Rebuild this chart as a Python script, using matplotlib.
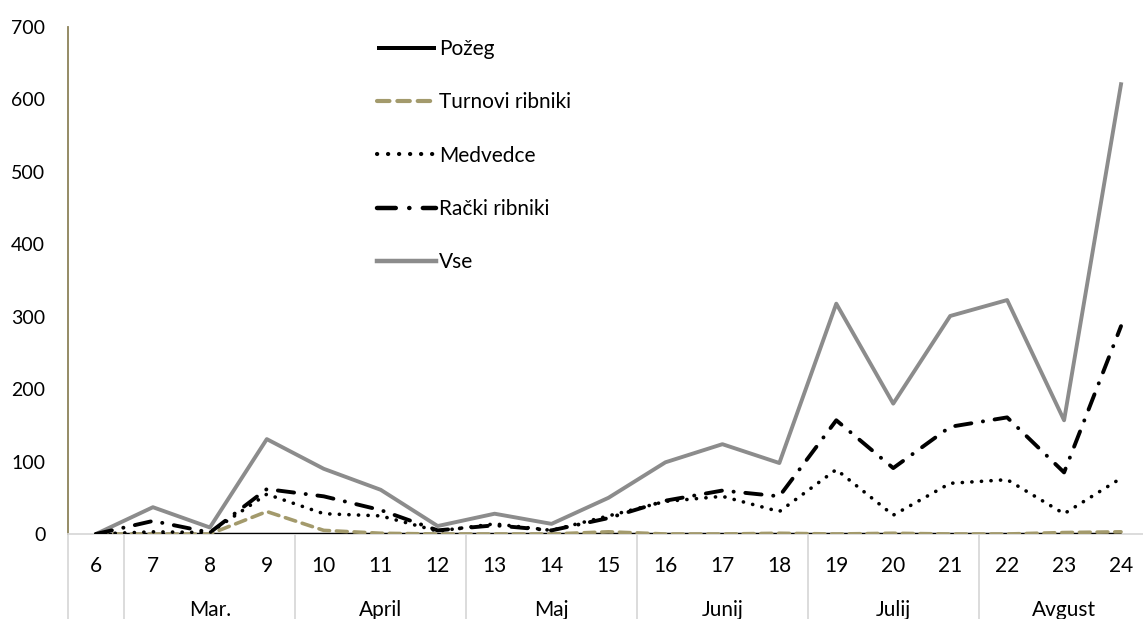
import matplotlib
matplotlib.use("Agg")
import matplotlib.pyplot as plt
import matplotlib.transforms as mtransforms

weeks = ["6", "7", "8", "9", "10", "11", "12", "13", "14", "15", "16", "17", "18",
         "19", "20", "21", "22", "23", "24"]
months = ["Mar.", "April", "Maj", "Junij", "Julij", "Avgust"]
month_spans = [(1, 3), (4, 6), (7, 9), (10, 12), (13, 15), (16, 18)]

pozeg = [0] * 19
turnovi = [0, 0, 0, 31, 5, 1, 0, 0, 0, 3, 0, 0, 1, 0, 1, 0, 0, 2, 3]
medvedce = [0, 3, 2, 55, 28, 25, 4, 14, 5, 25, 45, 52, 31, 89, 26, 70, 75, 28, 77]
racki = [0, 18, 2, 62, 52, 33, 5, 12, 5, 22, 46, 60, 52, 157, 91, 148, 161, 85, 287]
vse = [0, 37, 9, 131, 90, 61, 11, 28, 14, 50, 99, 124, 98, 318, 180, 301, 323, 157, 621]

series_names = ["Požeg", "Turnovi ribniki", "Medvedce", "Rački ribniki", "Vse"]

plt.rcParams['font.family'] = ['Lato', 'DejaVu Sans']

W, H = 1143, 619
fig = plt.figure(figsize=(W / 100, H / 100), dpi=100)
ax = fig.add_axes([67.5 / W, (H - 534) / H, 1082 / W, 507 / H])

x = list(range(len(weeks)))
ax.plot(x, pozeg, color='black', lw=2.5, solid_capstyle='butt', label=series_names[0], zorder=3)
ax.plot(x, turnovi, color='#A39A6C', lw=2.6, ls=(0, (3.0, 1.9)), dash_capstyle='round',
        label=series_names[1], zorder=3)
ax.plot(x, medvedce, color='black', lw=2.6, ls=(0, (0.05, 2.6)), dash_capstyle='round',
        label=series_names[2], zorder=3)
ax.plot(x, racki, color='black', lw=2.8, ls=(0, (4.2, 3.0, 0.05, 3.0)), dash_capstyle='round',
        label=series_names[3], zorder=3)
ax.plot(x, vse, color='#8C8C8C', lw=2.8, label=series_names[4], zorder=2)

ax.set_xlim(-0.5, len(weeks) - 0.5)
ax.set_ylim(0, 700)
ax.set_yticks(range(0, 701, 100))
ax.set_xticks(x)
ax.set_xticklabels(weeks)
ax.tick_params(axis='both', length=0, colors='black')
ax.tick_params(axis='y', pad=16, labelsize=14)
ax.tick_params(axis='x', pad=16, labelsize=15)

for s in ['top', 'right']:
    ax.spines[s].set_visible(False)
ax.spines['left'].set_color('#8C8259')
ax.spines['left'].set_linewidth(1.3)
ax.spines['bottom'].set_color('#D9D9D9')
ax.spines['bottom'].set_linewidth(1.3)

trans = mtransforms.blended_transform_factory(ax.transData, ax.transAxes)
depth = -85 / 507
sep_positions = [-0.5] + [a - 0.5 for a, b in month_spans]
for sp in sep_positions:
    ax.plot([sp, sp], [0, depth], color='#D9D9D9', lw=1.3, transform=trans, clip_on=False)

for name, (a, b) in zip(months, month_spans):
    ax.text((a + b) / 2, -76 / 507, name, transform=trans, ha='center', va='center', fontsize=15)

leg = ax.legend(loc='upper left', bbox_to_anchor=(377 / W, 1 - 39 / H), bbox_transform=fig.transFigure,
                frameon=False, fontsize=15, handlelength=2.85, handletextpad=0.12,
                labelspacing=1.6, borderaxespad=0, borderpad=0)
for line in leg.get_lines():
    line.set_linewidth(line.get_linewidth() * 1.15)

fig.savefig("out.png", dpi=100, facecolor='white')
